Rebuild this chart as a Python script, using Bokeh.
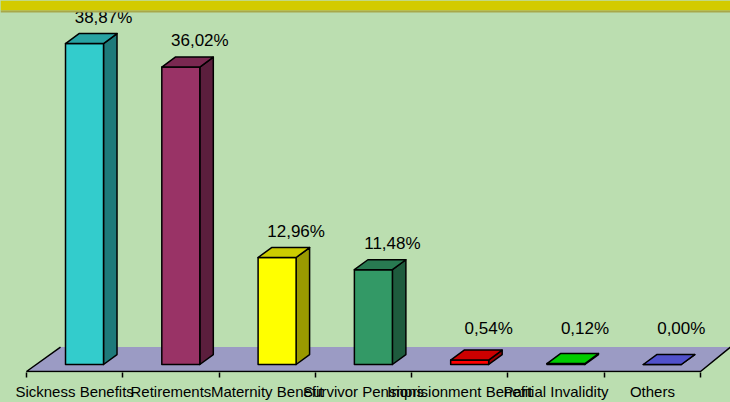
import numpy as np
from bokeh.plotting import figure
from bokeh.models import FixedTicker, BoxAnnotation, Range1d
from bokeh.core.properties import value
from bokeh.embed import file_html
from bokeh.resources import INLINE

# ---------------- data ----------------
categories = ["Sickness Benefits", "Retirements", "Maternity Benefit",
              "Survivor Pensions", "Imprisionment Benefit", "Partial Invalidity", "Others"]
shares = [38.87, 36.02, 12.96, 11.48, 0.54, 0.12, 0.00]
front_colors = ["#33cccc", "#993366", "#ffff00", "#339966", "#ff0000", "#00ff00", "#6666ff"]

# ---------------- layout / style constants ----------------
W, H = 730, 402
FRAME_H = 373
PX_X = 96.29          # pixels per category
PX_Y = 8.28           # pixels per percent
X0_PX = 26            # left of first category
Y0_PX = 365           # baseline of bars (px from top)

x_start = -X0_PX / PX_X
x_end = x_start + W / PX_X
y_start = -(FRAME_H - Y0_PX) / PX_Y
y_end = y_start + FRAME_H / PX_Y

BG = "#bbdeb0"
FLOOR = "#9b9bc4"
BAR_W = 38 / PX_X
BAR_OFF = 0.6025          # centre of front face inside a category
BAR_DX = 13.5 / PX_X      # 3d depth offsets of bars
BAR_DY = 10 / PX_Y
FLOOR_FRONT = -7 / PX_Y
FLOOR_BACK = FLOOR_FRONT + 24.5 / PX_Y
FLOOR_DX_L = 34 / PX_X
FLOOR_DX_R = 30 / PX_X


def shade(hex_color, f):
    h = hex_color.lstrip("#")
    r, g, b = (int(h[i:i + 2], 16) for i in (0, 2, 4))
    return "#%02x%02x%02x" % (int(r * f), int(g * f), int(b * f))


n = len(categories)

p = figure(width=W, height=H, output_backend="svg", toolbar_location=None,
           x_range=Range1d(x_start, x_end), y_range=Range1d(y_start, y_end),
           y_axis_location=None, min_border_left=0, min_border_right=0,
           min_border_top=0, min_border_bottom=H - FRAME_H,
           background_fill_color=BG, border_fill_color=BG, outline_line_color=None)
p.grid.visible = False

# top strip
strip_bottom = y_end - 10 / PX_Y
p.add_layout(BoxAnnotation(bottom=strip_bottom, fill_color="#d3cb00", fill_alpha=1, line_color=None))
p.add_layout(BoxAnnotation(top=strip_bottom, bottom=strip_bottom - 2 / PX_Y,
                           fill_color="#a8a84a", fill_alpha=1, line_color=None))

# floor
fx = [0 + FLOOR_DX_L, 0, n, n + FLOOR_DX_R]
fy = [FLOOR_BACK, FLOOR_FRONT, FLOOR_FRONT, FLOOR_BACK]
p.patch(fx, fy, fill_color=FLOOR, line_color=None)
p.line(fx, fy, line_color="black", line_width=1.5)

# bars (front, side, top faces)
xs, ys, fills = [], [], []
for i, (v, c) in enumerate(zip(shares, front_colors)):
    l = i + BAR_OFF - BAR_W / 2
    r = i + BAR_OFF + BAR_W / 2
    # side
    xs.append([r, r, r + BAR_DX, r + BAR_DX])
    ys.append([0, v, v + BAR_DY, BAR_DY])
    fills.append(shade(c, 0.6))
    # front
    xs.append([l, r, r, l])
    ys.append([0, 0, v, v])
    fills.append(c)
    # top
    xs.append([l, r, r + BAR_DX, l + BAR_DX])
    ys.append([v, v, v + BAR_DY, v + BAR_DY])
    fills.append(shade(c, 0.8))
p.patches(xs, ys, fill_color=fills, line_color="black", line_width=1.5, line_join="round")

# value labels
lab_x = [i + 0.5 + 0.3 for i in range(n)]
lab_y = [max(v + 3.2, 4.4) for v in shares]
lab_t = [("%.2f" % v).replace(".", ",") + "%" for v in shares]
p.text(lab_x, lab_y, text=lab_t, text_font=value("Liberation Sans"), text_font_size="17px",
       text_align="center", text_baseline="middle", text_color="black")

# x axis
ax = p.xaxis[0]
ax.ticker = FixedTicker(ticks=[i + 0.5 for i in range(n)], minor_ticks=list(range(n + 1)))
ax.major_label_overrides = {i + 0.5: c for i, c in enumerate(categories)}
ax.axis_line_color = None
ax.major_tick_out = 0
ax.major_tick_in = 0
ax.minor_tick_in = 0
ax.minor_tick_out = 5
ax.minor_tick_line_color = "black"
ax.minor_tick_line_width = 1.5
ax.major_label_standoff = 5
ax.major_label_text_font = "Liberation Sans"
ax.major_label_text_font_size = "15px"
ax.major_label_text_color = "black"

html = file_html(p, INLINE)
html = html.replace("</head>", "<style>body{margin:0;background:%s;overflow:hidden}</style></head>" % BG, 1)
open("out.html", "w").write(html)
